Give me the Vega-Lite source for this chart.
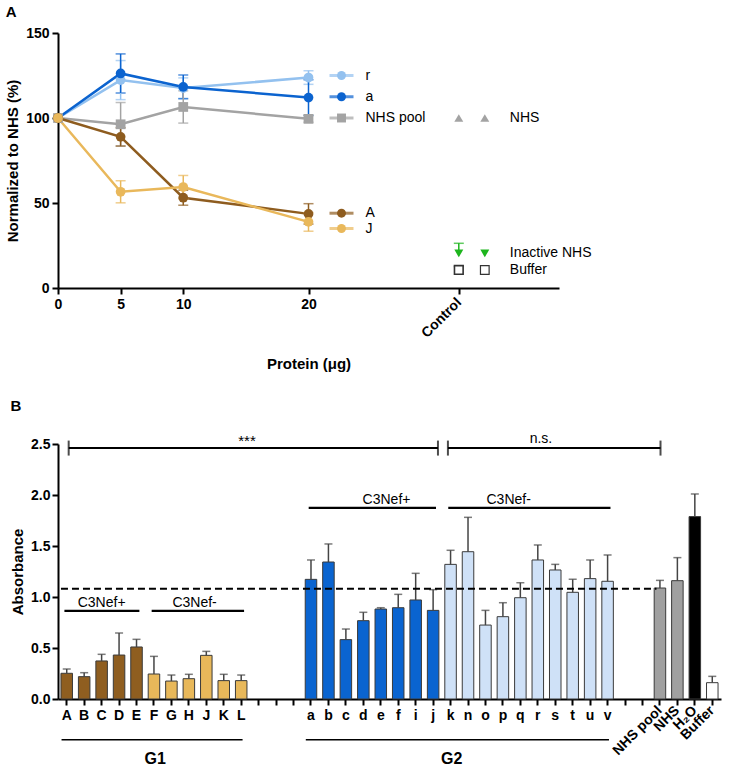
{
  "$schema": "https://vega.github.io/schema/vega-lite/v6.json",
  "padding": {"left": 5, "top": 5, "right": 5, "bottom": 0},
  "config": {
    "font": "Liberation Sans",
    "view": {"stroke": null},
    "axis": {"grid": false, "domainColor": "#000", "domainWidth": 2, "tickColor": "#000", "tickWidth": 2, "tickSize": 6, "labelFont": "Liberation Sans", "labelFontSize": 14, "labelFontWeight": "bold", "labelColor": "#000", "titleFont": "Liberation Sans", "titleFontSize": 15, "titleFontWeight": "bold", "titleColor": "#000"},
    "legend": {"disable": true},
    "title": {"font": "Liberation Sans", "fontSize": 15, "fontWeight": "bold", "anchor": "start", "frame": "bounds", "color": "#000"}
  },
  "resolve": {"scale": {"color": "independent", "shape": "independent", "fill": "independent", "stroke": "independent"}},
  "spacing": 27,
  "datasets": {
    "lines": [
      {"series": "r", "protein": 0, "value": 100, "err": 0},
      {"series": "r", "protein": 5, "value": 122.3, "err": 11.5},
      {"series": "r", "protein": 10, "value": 117.6, "err": 6},
      {"series": "r", "protein": 20, "value": 123.8, "err": 4},
      {"series": "a", "protein": 0, "value": 100, "err": 0},
      {"series": "a", "protein": 5, "value": 126.2, "err": 11.5},
      {"series": "a", "protein": 10, "value": 118.3, "err": 7},
      {"series": "a", "protein": 20, "value": 112, "err": 10.5},
      {"series": "NHS pool", "protein": 0, "value": 100, "err": 0},
      {"series": "NHS pool", "protein": 5, "value": 96.3, "err": 12.8},
      {"series": "NHS pool", "protein": 10, "value": 106.5, "err": 9.5},
      {"series": "NHS pool", "protein": 20, "value": 99.5, "err": 2},
      {"series": "A", "protein": 0, "value": 100, "err": 0},
      {"series": "A", "protein": 5, "value": 88.9, "err": 5.4},
      {"series": "A", "protein": 10, "value": 53.1, "err": 4.4},
      {"series": "A", "protein": 20, "value": 43.6, "err": 6},
      {"series": "J", "protein": 0, "value": 100, "err": 0},
      {"series": "J", "protein": 5, "value": 56.6, "err": 6.5},
      {"series": "J", "protein": 10, "value": 59.4, "err": 6.8},
      {"series": "J", "protein": 20, "value": 38.9, "err": 5.5}
    ],
    "endlabels": [
      {"series": "r", "y": 125},
      {"series": "a", "y": 112.5},
      {"series": "NHS pool", "y": 100},
      {"series": "A", "y": 44},
      {"series": "J", "y": 35}
    ],
    "controls": [
      {"name": "NHS", "value": 100, "hi": 100},
      {"name": "Inactive NHS", "value": 20.3, "hi": 26.3},
      {"name": "Buffer", "value": 10.6, "hi": 12.6}
    ],
    "bars": [
      {"cat": "A", "grp": "G1+", "value": 0.252, "hi": 0.294},
      {"cat": "B", "grp": "G1+", "value": 0.219, "hi": 0.258},
      {"cat": "C", "grp": "G1+", "value": 0.373, "hi": 0.438},
      {"cat": "D", "grp": "G1+", "value": 0.431, "hi": 0.647},
      {"cat": "E", "grp": "G1+", "value": 0.51, "hi": 0.585},
      {"cat": "F", "grp": "G1-", "value": 0.245, "hi": 0.418},
      {"cat": "G", "grp": "G1-", "value": 0.176, "hi": 0.235},
      {"cat": "H", "grp": "G1-", "value": 0.199, "hi": 0.242},
      {"cat": "J", "grp": "G1-", "value": 0.428, "hi": 0.467},
      {"cat": "K", "grp": "G1-", "value": 0.18, "hi": 0.242},
      {"cat": "L", "grp": "G1-", "value": 0.18, "hi": 0.235},
      {"cat": "a", "grp": "G2+", "value": 1.173, "hi": 1.363},
      {"cat": "b", "grp": "G2+", "value": 1.343, "hi": 1.52},
      {"cat": "c", "grp": "G2+", "value": 0.582, "hi": 0.686},
      {"cat": "d", "grp": "G2+", "value": 0.768, "hi": 0.85},
      {"cat": "e", "grp": "G2+", "value": 0.882, "hi": 0.895},
      {"cat": "f", "grp": "G2+", "value": 0.895, "hi": 1.026},
      {"cat": "i", "grp": "G2+", "value": 0.971, "hi": 1.232},
      {"cat": "j", "grp": "G2+", "value": 0.869, "hi": 1.072},
      {"cat": "k", "grp": "G2-", "value": 1.32, "hi": 1.458},
      {"cat": "n", "grp": "G2-", "value": 1.444, "hi": 1.781},
      {"cat": "o", "grp": "G2-", "value": 0.725, "hi": 0.869},
      {"cat": "p", "grp": "G2-", "value": 0.807, "hi": 0.944},
      {"cat": "q", "grp": "G2-", "value": 0.993, "hi": 1.14},
      {"cat": "r", "grp": "G2-", "value": 1.363, "hi": 1.51},
      {"cat": "s", "grp": "G2-", "value": 1.265, "hi": 1.32},
      {"cat": "t", "grp": "G2-", "value": 1.046, "hi": 1.173},
      {"cat": "u", "grp": "G2-", "value": 1.18, "hi": 1.363},
      {"cat": "v", "grp": "G2-", "value": 1.154, "hi": 1.412},
      {"cat": "NHS pool", "grp": "NHS pool", "value": 1.088, "hi": 1.163},
      {"cat": "NHS", "grp": "NHS", "value": 1.16, "hi": 1.386},
      {"cat": "H₂O", "grp": "H2O", "value": 1.788, "hi": 2.01},
      {"cat": "Buffer", "grp": "Buffer", "value": 0.16, "hi": 0.222}
    ],
    "refline": [{"from": "A", "to": "NHS pool", "y": 1.08}],
    "brackets": [
      {"label": "***", "from": "A", "to": "j", "at": "L", "y": 2.46},
      {"label": "n.s.", "from": "k", "to": "NHS pool", "at": "r", "y": 2.46}
    ],
    "subgroups": [
      {"label": "C3Nef+", "grp": "G1+", "from": "A", "to": "E", "at": "C", "y": 0.863},
      {"label": "C3Nef-", "grp": "G1-", "from": "F", "to": "L", "at": "H", "y": 0.863},
      {"label": "C3Nef+", "grp": "G2+", "from": "a", "to": "j", "at": "e", "y": 1.873},
      {"label": "C3Nef-", "grp": "G2-", "from": "k", "to": "v", "at": "p", "y": 1.873}
    ],
    "cohorts": [
      {"label": "G1", "from": "A", "to": "L", "at": "F", "y": -0.4, "ty": -0.59},
      {"label": "G2", "from": "a", "to": "v", "at": "k", "y": -0.4, "ty": -0.59}
    ]
  },
  "vconcat": [
    {
      "title": {"text": "A", "offset": 6},
      "width": 501,
      "height": 255,
      "layer": [
        {
          "data": {"name": "lines"},
          "mark": {"type": "line", "strokeWidth": 2.5},
          "encoding": {
            "x": {"field": "protein", "type": "quantitative", "title": "Protein (μg)", "scale": {"domain": [0, 40], "nice": false},
              "axis": {"values": [0, 5, 10, 20, 32], "labelExpr": "datum.value == 32 ? 'Control' : datum.label", "labelAngle": {"expr": "datum.value == 32 ? -45 : 0"}, "labelAlign": {"condition": {"test": "datum.value == 32", "value": "right"}, "value": "center"}, "labelBaseline": {"condition": {"test": "datum.value == 32", "value": "middle"}, "value": "top"}, "labelPadding": {"condition": {"test": "datum.value == 32", "value": 6}, "value": 3}, "labelOverlap": false, "labelFlush": false, "titlePadding": 16}},
            "y": {"field": "value", "type": "quantitative", "title": "Normalized to NHS (%)", "scale": {"domain": [0, 150], "nice": false}, "axis": {"values": [0, 50, 100, 150], "labelPadding": 3, "titlePadding": 5}},
            "color": {"field": "series", "type": "nominal", "scale": {"domain": ["r", "a", "NHS pool", "A", "J", "NHS", "Inactive NHS", "Buffer"], "range": ["#93c1ef", "#0b63cf", "#a3a3a3", "#8e5c1f", "#e9b85b", "#a3a3a3", "#1db51d", "#333333"]}},
            "order": {"field": "protein"}
          }
        },
        {
          "data": {"name": "lines"},
          "transform": [{"filter": "datum.err > 0"}],
          "mark": {"type": "errorbar", "ticks": true, "size": 10, "thickness": 1.5},
          "encoding": {
            "x": {"field": "protein", "type": "quantitative", "title": "Protein (μg)"},
            "y": {"field": "value", "type": "quantitative", "title": "Normalized to NHS (%)"},
            "yError": {"field": "err"},
            "color": {"field": "series", "type": "nominal"}
          }
        },
        {
          "data": {"name": "lines"},
          "mark": {"type": "point", "filled": true, "opacity": 1, "size": 95},
          "encoding": {
            "x": {"field": "protein", "type": "quantitative", "title": "Protein (μg)"},
            "y": {"field": "value", "type": "quantitative", "title": "Normalized to NHS (%)"},
            "color": {"field": "series", "type": "nominal"},
            "shape": {"field": "series", "type": "nominal", "scale": {"domain": ["r", "a", "NHS pool", "A", "J", "NHS", "Inactive NHS", "Buffer"], "range": ["circle", "circle", "square", "circle", "circle", "triangle-up", "triangle-down", "square"]}}
          }
        },
        {
          "data": {"name": "endlabels"},
          "mark": {"type": "tick", "orient": "horizontal", "xOffset": 33, "size": 24, "thickness": 3},
          "encoding": {
            "x": {"datum": 20, "type": "quantitative", "title": "Protein (μg)"},
            "y": {"field": "y", "type": "quantitative", "title": "Normalized to NHS (%)"},
            "color": {"field": "series", "type": "nominal"}
          }
        },
        {
          "data": {"name": "endlabels"},
          "mark": {"type": "point", "filled": true, "opacity": 1, "size": 80, "xOffset": 33},
          "encoding": {
            "x": {"datum": 20, "type": "quantitative", "title": "Protein (μg)"},
            "y": {"field": "y", "type": "quantitative", "title": "Normalized to NHS (%)"},
            "color": {"field": "series", "type": "nominal"},
            "shape": {"field": "series", "type": "nominal"}
          }
        },
        {
          "data": {"name": "endlabels"},
          "mark": {"type": "text", "align": "left", "baseline": "middle", "dx": 57, "fontSize": 14, "font": "Liberation Sans", "color": "#000"},
          "encoding": {
            "x": {"datum": 20, "type": "quantitative", "title": "Protein (μg)"},
            "y": {"field": "y", "type": "quantitative", "title": "Normalized to NHS (%)"},
            "text": {"field": "series"}
          }
        },
        {
          "data": {"name": "controls"},
          "transform": [{"filter": "datum.hi > datum.value"}],
          "mark": {"type": "rule", "strokeWidth": 1.5},
          "encoding": {
            "x": {"datum": 32, "type": "quantitative", "title": "Protein (μg)"},
            "y": {"field": "value", "type": "quantitative", "title": "Normalized to NHS (%)"},
            "y2": {"field": "hi"},
            "color": {"field": "name", "type": "nominal"}
          }
        },
        {
          "data": {"name": "controls"},
          "transform": [{"filter": "datum.hi > datum.value"}],
          "mark": {"type": "tick", "orient": "horizontal", "size": 10, "thickness": 1.5},
          "encoding": {
            "x": {"datum": 32, "type": "quantitative", "title": "Protein (μg)"},
            "y": {"field": "hi", "type": "quantitative", "title": "Normalized to NHS (%)"},
            "color": {"field": "name", "type": "nominal"}
          }
        },
        {
          "data": {"name": "controls"},
          "transform": [{"filter": "datum.name != 'Buffer'"}],
          "mark": {"type": "point", "filled": true, "opacity": 1, "size": 80},
          "encoding": {
            "x": {"datum": 32, "type": "quantitative", "title": "Protein (μg)"},
            "y": {"field": "value", "type": "quantitative", "title": "Normalized to NHS (%)"},
            "color": {"field": "name", "type": "nominal"},
            "shape": {"field": "name", "type": "nominal"}
          }
        },
        {
          "data": {"name": "controls"},
          "transform": [{"filter": "datum.name != 'Buffer'"}],
          "mark": {"type": "point", "filled": true, "opacity": 1, "size": 80, "xOffset": 26},
          "encoding": {
            "x": {"datum": 32, "type": "quantitative", "title": "Protein (μg)"},
            "y": {"field": "value", "type": "quantitative", "title": "Normalized to NHS (%)"},
            "color": {"field": "name", "type": "nominal"},
            "shape": {"field": "name", "type": "nominal"}
          }
        },
        {
          "data": {"name": "controls"},
          "transform": [{"filter": "datum.name == 'Buffer'"}],
          "mark": {"type": "square", "filled": false, "fill": "#fff", "stroke": "#333", "strokeWidth": 1.6, "opacity": 1, "size": 75},
          "encoding": {
            "x": {"datum": 32, "type": "quantitative", "title": "Protein (μg)"},
            "y": {"field": "value", "type": "quantitative", "title": "Normalized to NHS (%)"}
          }
        },
        {
          "data": {"name": "controls"},
          "transform": [{"filter": "datum.name == 'Buffer'"}],
          "mark": {"type": "square", "filled": false, "fill": "#fff", "stroke": "#333", "strokeWidth": 1.2, "opacity": 1, "size": 75, "xOffset": 26},
          "encoding": {
            "x": {"datum": 32, "type": "quantitative", "title": "Protein (μg)"},
            "y": {"field": "value", "type": "quantitative", "title": "Normalized to NHS (%)"}
          }
        },
        {
          "data": {"name": "controls"},
          "mark": {"type": "text", "align": "left", "baseline": "middle", "dx": 51, "fontSize": 14, "font": "Liberation Sans", "color": "#000"},
          "encoding": {
            "x": {"datum": 32, "type": "quantitative", "title": "Protein (μg)"},
            "y": {"field": "value", "type": "quantitative", "title": "Normalized to NHS (%)"},
            "text": {"field": "name"}
          }
        }
      ]
    },
    {
      "title": {"text": "B", "offset": 18},
      "width": 663,
      "height": 255,
      "layer": [
        {
          "data": {"name": "bars"},
          "mark": {"type": "bar", "stroke": "#3a3a3a", "strokeWidth": 1},
          "encoding": {
            "x": {"field": "cat", "type": "nominal", "sort": null,
              "scale": {"domain": ["A", "B", "C", "D", "E", "F", "G", "H", "J", "K", "L", "_1", "_2", "_3", "a", "b", "c", "d", "e", "f", "i", "j", "k", "n", "o", "p", "q", "r", "s", "t", "u", "v", "_4", "_5", "NHS pool", "NHS", "H₂O", "Buffer"], "paddingInner": 0.34, "paddingOuter": 0.17},
              "axis": {"title": null, "labelExpr": "slice(datum.value, 0, 1) == '_' ? '' : datum.value", "labelAngle": {"expr": "indexof(['NHS pool','NHS','H₂O','Buffer'], datum.value) >= 0 ? -45 : 0"}, "labelAlign": {"condition": {"test": "indexof(['NHS pool','NHS','H₂O','Buffer'], datum.value) >= 0", "value": "right"}, "value": "center"}, "labelBaseline": {"condition": {"test": "indexof(['NHS pool','NHS','H₂O','Buffer'], datum.value) >= 0", "value": "middle"}, "value": "top"}, "labelOverlap": false, "labelPadding": 3}},
            "y": {"field": "value", "type": "quantitative", "scale": {"domain": [0, 2.5], "nice": false}, "axis": {"values": [0, 0.5, 1, 1.5, 2, 2.5], "format": ".1f", "title": "Absorbance", "labelPadding": 2, "titlePadding": 5}},
            "fill": {"field": "grp", "type": "nominal", "scale": {"domain": ["G1+", "G1-", "G2+", "G2-", "NHS pool", "NHS", "H2O", "Buffer"], "range": ["#8f5e20", "#e8b85a", "#0a64d0", "#cfe1f7", "#a0a0a0", "#a0a0a0", "#000000", "#ffffff"]}}
          }
        },
        {
          "data": {"name": "bars"},
          "mark": {"type": "rule", "color": "#444", "strokeWidth": 1.5},
          "encoding": {
            "x": {"field": "cat", "type": "nominal"},
            "y": {"field": "value", "type": "quantitative"},
            "y2": {"field": "hi"}
          }
        },
        {
          "data": {"name": "bars"},
          "mark": {"type": "tick", "orient": "horizontal", "color": "#444", "size": 8, "thickness": 1.5},
          "encoding": {
            "x": {"field": "cat", "type": "nominal"},
            "y": {"field": "hi", "type": "quantitative"}
          }
        },
        {
          "data": {"name": "refline"},
          "mark": {"type": "rule", "color": "#000", "strokeWidth": 2, "strokeDash": [7, 4]},
          "encoding": {
            "x": {"field": "from", "type": "nominal", "bandPosition": 0},
            "x2": {"field": "to", "bandPosition": 0.2},
            "y": {"field": "y", "type": "quantitative"}
          }
        },
        {
          "data": {"name": "brackets"},
          "transform": [{"filter": "datum.label == '***'"}],
          "layer": [
            {"mark": {"type": "rule", "color": "#000", "strokeWidth": 2},
             "encoding": {"x": {"field": "from", "type": "nominal", "bandPosition": 0.67}, "x2": {"field": "to", "bandPosition": 0.92}, "y": {"field": "y", "type": "quantitative"}}},
            {"mark": {"type": "tick", "orient": "vertical", "color": "#000", "size": 15, "thickness": 2},
             "encoding": {"x": {"field": "from", "type": "nominal", "bandPosition": 0.67}, "y": {"field": "y", "type": "quantitative"}}},
            {"mark": {"type": "tick", "orient": "vertical", "color": "#000", "size": 15, "thickness": 2},
             "encoding": {"x": {"field": "to", "type": "nominal", "bandPosition": 0.92}, "y": {"field": "y", "type": "quantitative"}}},
            {"mark": {"type": "text", "baseline": "alphabetic", "dy": -2, "fontSize": 15, "font": "Liberation Sans", "color": "#000"},
             "encoding": {"x": {"field": "at", "type": "nominal", "bandPosition": 1}, "y": {"field": "y", "type": "quantitative"}, "text": {"field": "label"}}}
          ]
        },
        {
          "data": {"name": "brackets"},
          "transform": [{"filter": "datum.label == 'n.s.'"}],
          "layer": [
            {"mark": {"type": "rule", "color": "#000", "strokeWidth": 2},
             "encoding": {"x": {"field": "from", "type": "nominal", "bandPosition": 0.27}, "x2": {"field": "to", "bandPosition": 0.55}, "y": {"field": "y", "type": "quantitative"}}},
            {"mark": {"type": "tick", "orient": "vertical", "color": "#000", "size": 15, "thickness": 2},
             "encoding": {"x": {"field": "from", "type": "nominal", "bandPosition": 0.27}, "y": {"field": "y", "type": "quantitative"}}},
            {"mark": {"type": "tick", "orient": "vertical", "color": "#000", "size": 15, "thickness": 2},
             "encoding": {"x": {"field": "to", "type": "nominal", "bandPosition": 0.55}, "y": {"field": "y", "type": "quantitative"}}},
            {"mark": {"type": "text", "baseline": "alphabetic", "dy": -5, "fontSize": 14, "font": "Liberation Sans", "color": "#000"},
             "encoding": {"x": {"field": "at", "type": "nominal", "bandPosition": 0.77}, "y": {"field": "y", "type": "quantitative"}, "text": {"field": "label"}}}
          ]
        },
        {
          "data": {"name": "subgroups"},
          "mark": {"type": "rule", "color": "#000", "strokeWidth": 2.2},
          "encoding": {
            "x": {"field": "from", "type": "nominal", "bandPosition": 0.3},
            "x2": {"field": "to", "bandPosition": 0.75},
            "y": {"field": "y", "type": "quantitative"}
          }
        },
        {
          "data": {"name": "subgroups"},
          "transform": [{"filter": "datum.grp == 'G1+'"}],
          "mark": {"type": "text", "baseline": "alphabetic", "dy": -4, "fontSize": 14, "font": "Liberation Sans", "color": "#000"},
          "encoding": {
            "x": {"field": "at", "type": "nominal", "bandPosition": 0.5},
            "y": {"field": "y", "type": "quantitative"},
            "text": {"field": "label"}
          }
        },
        {
          "data": {"name": "subgroups"},
          "transform": [{"filter": "datum.grp != 'G1+'"}],
          "mark": {"type": "text", "baseline": "alphabetic", "dy": -4, "fontSize": 14, "font": "Liberation Sans", "color": "#000"},
          "encoding": {
            "x": {"field": "at", "type": "nominal", "bandPosition": 1},
            "y": {"field": "y", "type": "quantitative"},
            "text": {"field": "label"}
          }
        },
        {
          "data": {"name": "cohorts"},
          "mark": {"type": "rule", "color": "#000", "strokeWidth": 1.5},
          "encoding": {
            "x": {"field": "from", "type": "nominal", "bandPosition": 0.05},
            "x2": {"field": "to", "bandPosition": 0.62},
            "y": {"field": "y", "type": "quantitative"}
          }
        },
        {
          "data": {"name": "cohorts"},
          "mark": {"type": "text", "baseline": "middle", "fontSize": 16, "fontWeight": "bold", "font": "Liberation Sans", "color": "#000"},
          "encoding": {
            "x": {"field": "at", "type": "nominal", "bandPosition": 0.6},
            "y": {"field": "ty", "type": "quantitative"},
            "text": {"field": "label"}
          }
        }
      ]
    }
  ]
}
